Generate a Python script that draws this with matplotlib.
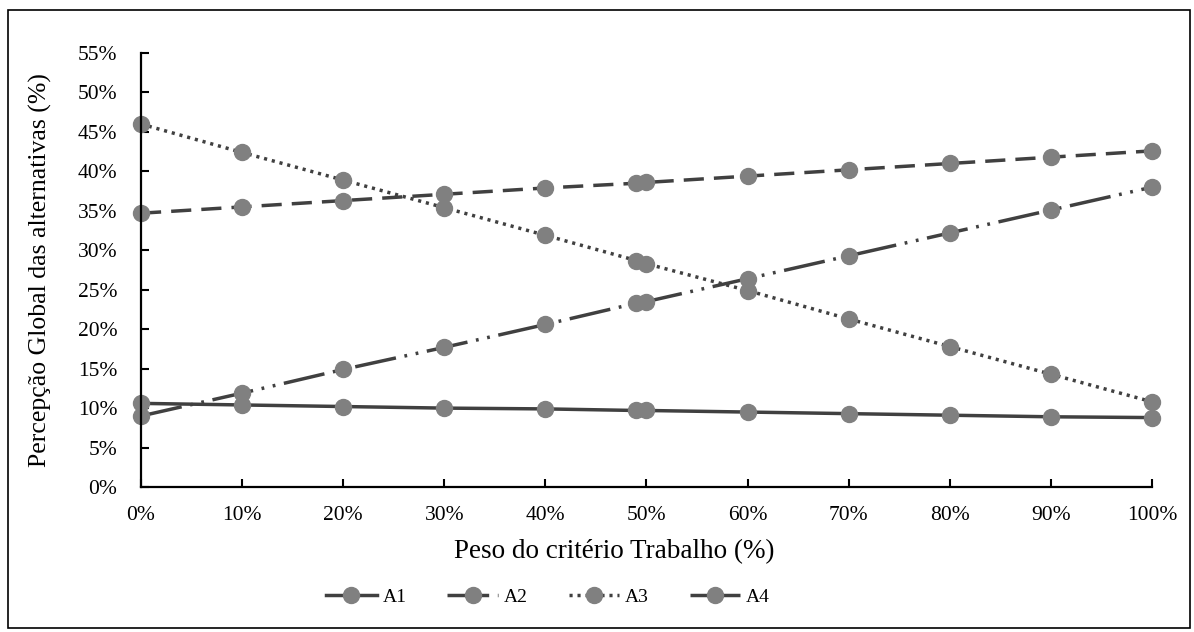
import numpy as np
import matplotlib
matplotlib.use('Agg')
import matplotlib.pyplot as plt
from matplotlib.ticker import PercentFormatter, MultipleLocator
from matplotlib.patches import Rectangle

plt.rcParams['font.family'] = ['Liberation Serif', 'DejaVu Serif']

# Weight of the "Trabalho" criterion (%)
peso = [0, 10, 20, 30, 40, 49, 50, 60, 70, 80, 90, 100]

# Global perception of each alternative (%)
a1 = [10.6, 10.4, 10.2, 10.0, 9.9, 9.7, 9.7, 9.5, 9.3, 9.1, 8.9, 8.8]
a2 = [9.0, 11.9, 14.9, 17.7, 20.6, 23.3, 23.5, 26.4, 29.3, 32.2, 35.1, 38.0]
a3 = [46.0, 42.4, 38.9, 35.4, 31.9, 28.7, 28.3, 24.9, 21.3, 17.8, 14.3, 10.8]
a4 = [34.7, 35.5, 36.3, 37.1, 37.9, 38.5, 38.6, 39.4, 40.2, 41.0, 41.8, 42.6]

series = {'A1': a1, 'A2': a2, 'A3': a3, 'A4': a4}
styles = {
    'A1': '-',
    'A2': (0, (12, 2.5, 0.8, 2.5, 0.8, 2.5)),
    'A3': (0, (0.9, 1.4)),
    'A4': (0, (5.8, 2.9)),
}

fig = plt.figure(figsize=(11.94, 6.32), dpi=100)
ax = fig.add_axes([0.1181, 0.2294, 0.9648 - 0.1181, 0.9161 - 0.2294])

for name, vals in series.items():
    ax.plot(peso, vals, linestyle=styles[name], color='#404040', lw=2.5,
            marker='o', markersize=11.5, markerfacecolor='#808080',
            markeredgecolor='#808080', label=name, clip_on=False)

ax.set_xlim(0, 100)
ax.set_ylim(0, 55)
ax.xaxis.set_major_locator(MultipleLocator(10))
ax.yaxis.set_major_locator(MultipleLocator(5))
ax.xaxis.set_major_formatter(PercentFormatter(decimals=0))
ax.yaxis.set_major_formatter(PercentFormatter(decimals=0))
ax.tick_params(direction='in', length=6, width=1.5, labelsize=15.5, colors='black')
ax.tick_params(axis='x', pad=14)
ax.tick_params(axis='y', pad=17)
for s in ['top', 'right']:
    ax.spines[s].set_visible(False)
for s in ['left', 'bottom']:
    ax.spines[s].set_linewidth(1.6)
ax.set_xlabel('Peso do critério Trabalho (%)', fontsize=19.5)
ax.set_ylabel('Percepção Global das alternativas (%)', fontsize=18.5)
ax.xaxis.set_label_coords((614 - 141) / 1011, (487 - 552) / 434, transform=ax.transAxes)
ax.yaxis.set_label_coords((40 - 141) / 1011, 0.5, transform=ax.transAxes)
ax.xaxis.label.set_va('center')
ax.yaxis.label.set_va('center')

ax.legend(loc='center', bbox_to_anchor=(548 / 1194, 1 - 597 / 632),
          bbox_transform=fig.transFigure, ncol=4, frameon=False,
          fontsize=14, handlelength=2.6, columnspacing=2.1, handletextpad=0.3)

fig.patches.append(Rectangle((8 / 1194, 1 - 628 / 632), 1182 / 1194, 618 / 632,
                             transform=fig.transFigure, fill=False,
                             edgecolor='black', lw=1.2))

plt.savefig('out.png', dpi=100)
